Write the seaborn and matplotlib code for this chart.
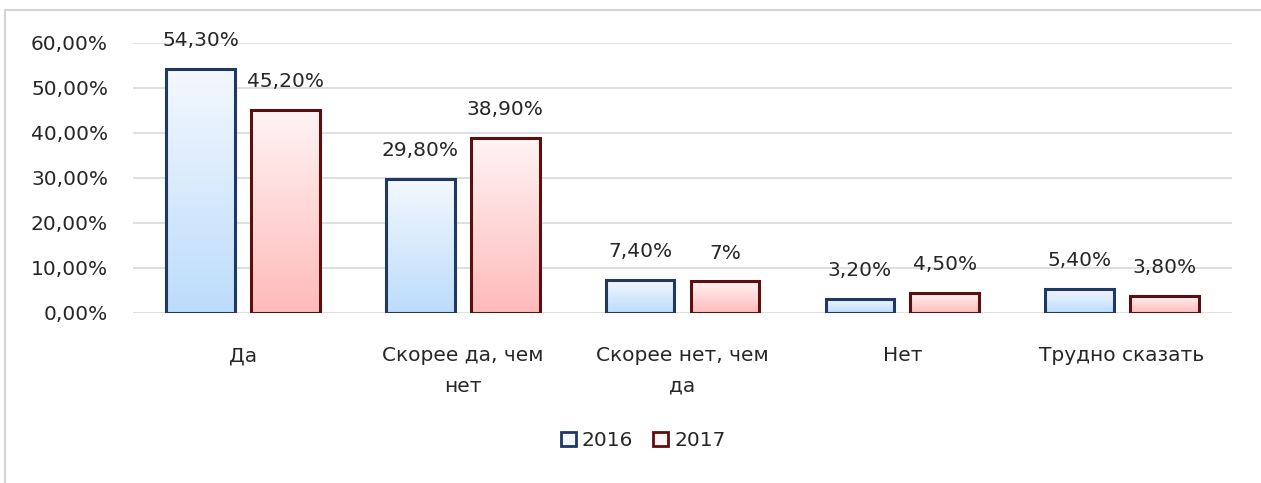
import numpy as np
import pandas as pd
import matplotlib
matplotlib.use("Agg")
import matplotlib.pyplot as plt
import seaborn as sns
from matplotlib.patches import Patch
from matplotlib.lines import Line2D
from matplotlib.ticker import FuncFormatter

categories = ["Да", "Скорее да, чем\nнет", "Скорее нет, чем\nда", "Нет", "Трудно сказать"]
years = ["2016", "2017"]
values_2016 = [54.3, 29.8, 7.4, 3.2, 5.4]
values_2017 = [45.2, 38.9, 7.0, 4.5, 3.8]
yticks = [0, 10, 20, 30, 40, 50, 60]

df = pd.DataFrame({
    "cat": categories * 2,
    "year": [years[0]] * len(categories) + [years[1]] * len(categories),
    "val": values_2016 + values_2017,
})

sns.set_theme(style="white")
plt.rcParams["font.family"] = ["DejaVu Sans"]
FS = 14.5
TXT = "#262626"

fig = plt.figure(figsize=(12.61, 4.83), dpi=100)
ax = fig.add_axes([0.1055, 0.352, 0.8715, 0.559])

edge = {"2016": "#1f3864", "2017": "#5c0f0f"}
grad = {"2016": ("#f4f8fe", "#bcdcfb"), "2017": ("#fff4f4", "#ffbaba")}

sns.barplot(data=df, x="cat", y="val", hue="year", order=categories, hue_order=years,
            width=0.772, gap=0.19, ax=ax, legend=False, saturation=1,
            palette={"2016": "#d9e9fd", "2017": "#ffd9d9"})

ax.set_ylim(0, 60)
ax.set_xlim(-0.5, len(categories) - 0.5)
ax.set_yticks(yticks)
ax.yaxis.set_major_formatter(FuncFormatter(lambda v, p: f"{v:.2f}".replace(".", ",") + "%"))
ax.grid(axis="y", color="#d9d9d9", linewidth=1.2, zorder=0)
ax.set_axisbelow(True)
for s in ax.spines.values():
    s.set_visible(False)
ax.tick_params(axis="both", length=0, labelsize=FS, colors=TXT)
ax.tick_params(axis="y", pad=18)
ax.tick_params(axis="x", pad=24)
ax.set_xlabel("")
ax.set_ylabel("")
for lbl in ax.get_xticklabels():
    lbl.set_linespacing(1.75)

def fmt(v):
    if float(v).is_integer():
        return f"{int(v)}%"
    return f"{v:.2f}".replace(".", ",") + "%"

for yi, (year, cont) in enumerate(zip(years, ax.containers)):
    top, bot = grad[year]
    cmap = matplotlib.colors.LinearSegmentedColormap.from_list("g" + year, [bot, top])
    for rect in cont:
        x0, w, h = rect.get_x(), rect.get_width(), rect.get_height()
        img = ax.imshow(np.linspace(0, 1, 256).reshape(-1, 1), cmap=cmap, aspect="auto",
                        extent=[x0, x0 + w, 0, h], origin="lower", zorder=2)
        img.set_clip_path(rect)
        rect.set_facecolor("none")
        rect.set_edgecolor(edge[year])
        rect.set_linewidth(2.2)
        rect.set_zorder(3)
        ax.annotate(fmt(h), (x0 + w / 2, h), xytext=(0, 13.5), textcoords="offset points",
                    ha="center", va="bottom", fontsize=FS, color=TXT)
ax.set_xlim(-0.5, len(categories) - 0.5)
ax.set_ylim(0, 60)

handles = [Patch(facecolor=grad[y][0], edgecolor=edge[y], linewidth=2, label=y) for y in years]
fig.legend(handles=handles, loc="center", bbox_to_anchor=(0.51, 0.088), ncol=2, frameon=False,
           fontsize=FS, handlelength=0.75, handleheight=0.75, handletextpad=0.3,
           columnspacing=1.0, labelcolor=TXT)

fig.add_artist(Line2D([0.004, 1.0], [0.979, 0.979], transform=fig.transFigure, color="#d4d4d4", lw=1.5))
fig.add_artist(Line2D([0.004, 0.004], [0.0, 0.979], transform=fig.transFigure, color="#d4d4d4", lw=1.5))

fig.savefig("out.png", dpi=100)
